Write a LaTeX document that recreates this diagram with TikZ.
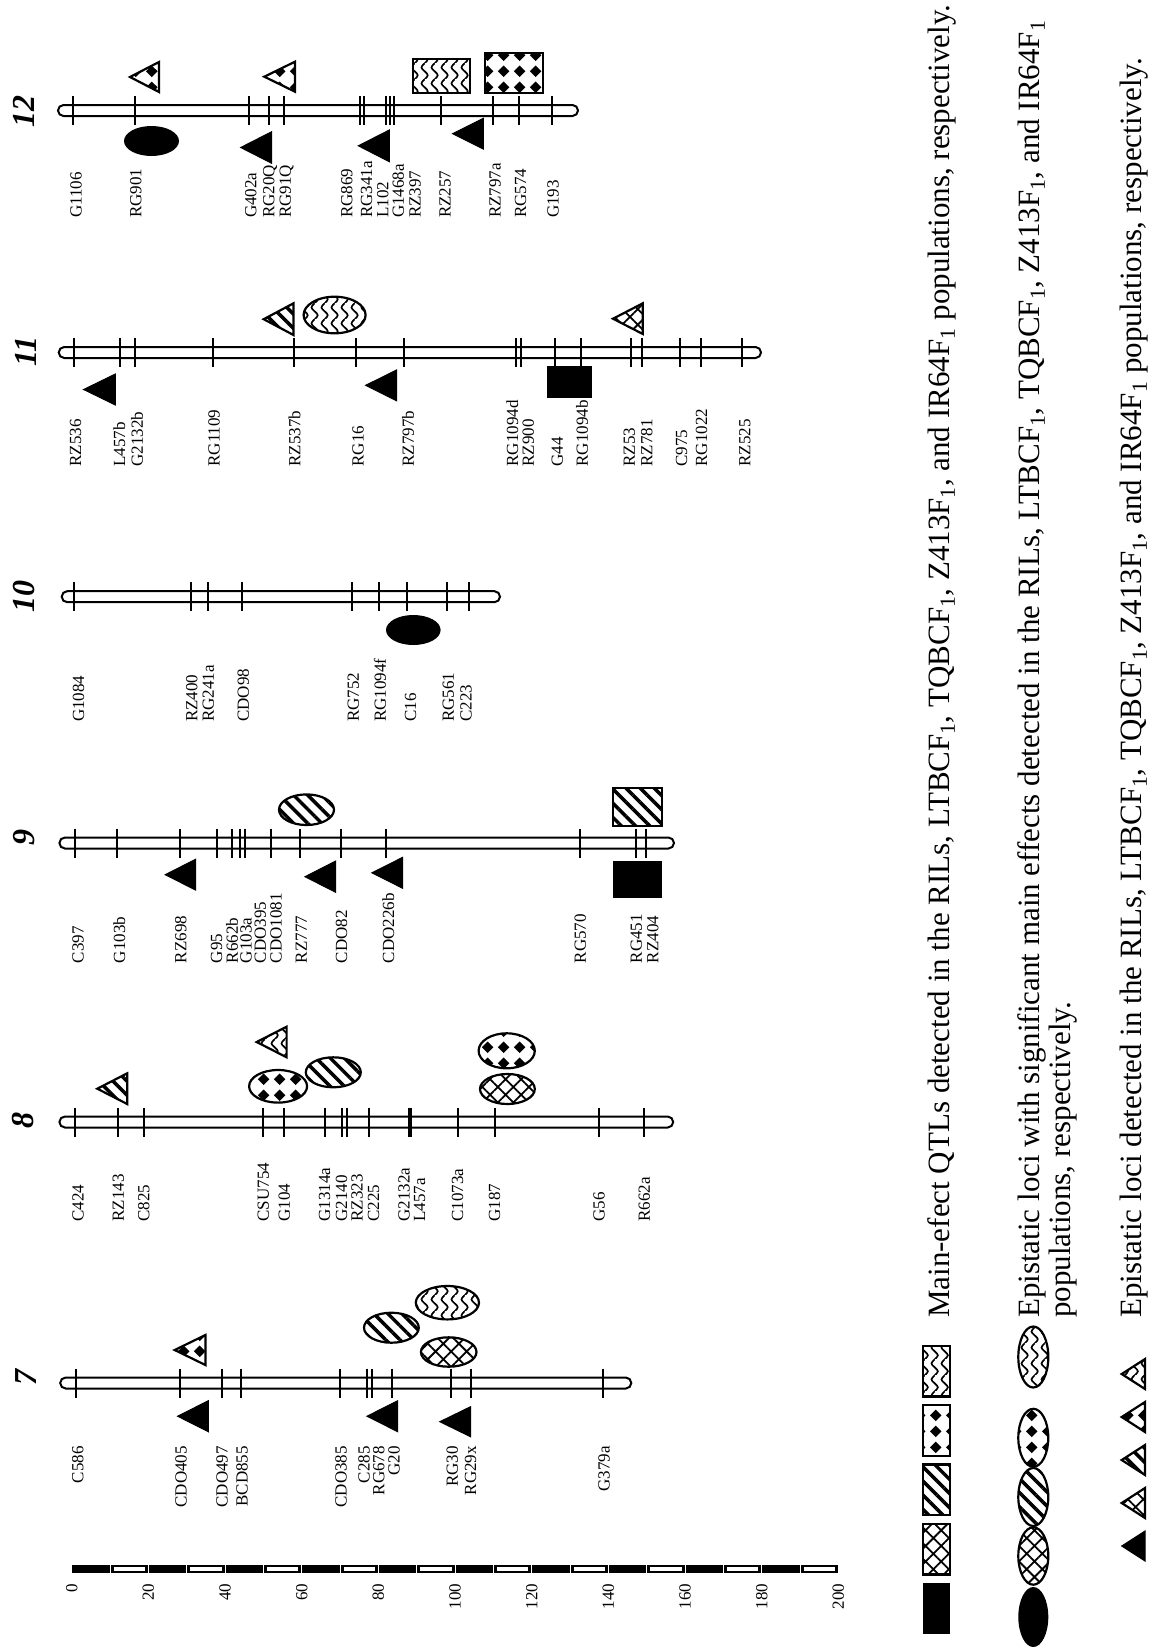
\documentclass[tikz,border=0pt]{standalone}
\usepackage{fontspec}
\setmainfont{Liberation Serif}
\usetikzlibrary{patterns,patterns.meta}

% diamond and wave fills (Z413F1, IR64F1)
\tikzdeclarepattern{
  name=diamonds,
  type=uncolored,
  bottom left={(0pt,0pt)},
  top right={(16pt,16pt)},
  tile size={(16pt,16pt)},
  code={\fill (8pt,2pt) -- (14pt,8pt) -- (8pt,14pt) -- (2pt,8pt) -- cycle;}
}
\tikzdeclarepattern{
  name=waves,
  type=uncolored,
  bottom left={(0pt,0pt)},
  top right={(10pt,16pt)},
  tile size={(10pt,16pt)},
  code={\draw[line width=1.8pt] (5pt,-0.5pt) .. controls (9.5pt,4pt) .. (5pt,8pt) .. controls (0.5pt,12pt) .. (5pt,16.5pt);}
}

\begin{document}
\begin{tikzpicture}[
    x=1pt,y=-1pt,
    chrom/.style={line width=2pt,rounded corners=5.5pt},
    tk/.style={line width=2pt},
    mk/.style={rotate=90,anchor=west,inner sep=0pt,font=\fontsize{17}{16.5}\selectfont},
    mkr/.style={mk,anchor=east},
    num/.style={rotate=90,inner sep=0pt,font=\fontsize{32}{32}\selectfont\bfseries\itshape},
    blk/.style={line width=1pt,fill=black},
    sym/.style={line width=2.2pt},
    pxhatch/.style={sym,pattern={Hatch[angle=45,distance=11pt,line width=1.8pt]}},
    pstripe/.style={sym,pattern={Lines[angle=-45,distance=10pt,line width=3.5pt]}},
    pdiam/.style={sym,pattern=diamonds},
    pwave/.style={sym,pattern=waves},
    legtxt/.style={rotate=90,anchor=base west,inner sep=0pt,font=\fontsize{31}{28}\selectfont},
]
\useasboundingbox (0,0) rectangle (1149,1647);

% ===== Chromosome 12 =====
\node[num] (n12) at (24,111) {12};
\draw[chrom] (58,105) rectangle (578,116);
\foreach \x in {73.3,135,249.3,269,284.3,360,364,385.7,390,394.3,440.7,493.3,518.5,552.2}
    \draw[tk] (\x,96) -- (\x,125);
\foreach \x/\t [count=\i] in {76/G1106,135.7/RG901,250.7/G402a,270/RG20Q,286.7/RG91Q,346.7/RG869,366.7/RG341a,382.7/L102,398.3/G1468a,415/RZ397,445/RZ257,495/RZ797a,520.5/RG574,553/G193}
    \node[mk] (c12m\i) at (\x,218) {\t};
\fill (151.5,141) ellipse [x radius=27.5,y radius=15];
\draw[pdiam] (130,77) -- (159,62) -- (159,92) -- cycle;
\draw[pdiam] (264.3,76.7) -- (295,61.7) -- (295,91.7) -- cycle;
\draw[blk] (240.7,147.5) -- (271.7,131.7) -- (271.7,163.3) -- cycle;
\draw[blk] (358.3,145.8) -- (389.3,130) -- (389.3,161.7) -- cycle;
\draw[blk] (452.7,133.7) -- (483.3,118.3) -- (483.3,149) -- cycle;
\draw[pwave] (413.3,59.3) rectangle (470,92.7);
\draw[pdiam] (485.3,52.7) rectangle (542.7,92.7);

% ===== Chromosome 11 =====
\node[num] (n11) at (26,351.7) {11};
\draw[chrom] (58.7,347) rectangle (761,358);
\foreach \x in {73.6,120.4,135.3,213,293.5,356.2,404,516,521,554.7,581,630.8,641.8,680,700.5,742.3}
    \draw[tk] (\x,338) -- (\x,367);
\foreach \x/\t [count=\i] in {75.6/RZ536,119.4/L457b,137/G2132b,214/RG1109,294.5/RZ537b,358.2/RG16,408/RZ797b,512.4/RG1094d,528.4/RZ900,557.2/G44,582/RG1094b,629.4/RZ53,646.8/RZ781,681.6/C975,701.5/RG1022,744.8/RZ525}
    \node[mk] (c11m\i) at (\x,466.7) {\t};
\draw[blk] (83.6,389.5) -- (115.4,374) -- (115.4,405) -- cycle;
\draw[blk] (365.7,385.3) -- (396.5,370) -- (396.5,400.7) -- cycle;
\fill (547.3,366) rectangle (592,398.3);
\draw[pstripe] (263.7,319.2) -- (293.5,303.3) -- (293.5,335) -- cycle;
\draw[pwave] (334.6,315) ellipse [x radius=31,y radius=18.3];
\draw[pxhatch] (613,318.7) -- (642.8,303.3) -- (642.8,334) -- cycle;

% ===== Chromosome 10 =====
\node[num] (n10) at (24,596.7) {10};
\draw[chrom] (61.7,591.2) rectangle (500,602.2);
\foreach \x in {74,190.7,207.7,242,351.7,379,407.3,446.7,469}
    \draw[tk] (\x,582.2) -- (\x,611.2);
\foreach \x/\t [count=\i] in {78.5/G1084,191.7/RZ400,208.3/RG241a,243.3/CDO98,353.3/RG752,380/RG1094f,410.7/C16,448.3/RG561,466/C223}
    \node[mk] (c10m\i) at (\x,722) {\t};
\fill (413.3,630) ellipse [x radius=27.3,y radius=15];

% ===== Chromosome 9 =====
\node[num] (n9) at (24.5,837) {9};
\draw[chrom] (59.4,837.5) rectangle (674,848.5);
\foreach \x in {74.6,117.4,180,217.4,232,240.2,244.6,271,300,340.6,386.2,579.5,636.2,646.4}
    \draw[tk] (\x,828.5) -- (\x,857.5);
\foreach \x/\t [count=\i] in {78.1/C397,119.2/G103b,180.8/RZ698,216.5/G95,232.1/R662b,246/G103a,260.3/CDO395,276/CDO1081,301.3/RZ777,341.5/CDO82,388.4/CDO226b,580.4/RG570,636.2/RG451,652.7/RZ404}
    \node[mk] (c9m\i) at (\x,963.3) {\t};
\draw[blk] (165.2,874.7) -- (195.5,859.3) -- (195.5,890) -- cycle;
\draw[blk] (305,876.7) -- (335.7,861) -- (335.7,892.3) -- cycle;
\draw[blk] (371.9,872.8) -- (402.7,857.3) -- (402.7,888.3) -- cycle;
\fill (612.5,860.7) rectangle (661.6,898.3);
\draw[pstripe] (613,788.3) rectangle (662,826);
\draw[pstripe] (306.5,809.7) ellipse [x radius=27.5,y radius=15.3];

% ===== Chromosome 8 =====
\node[num] (n8) at (23,1120) {8};
\draw[chrom] (59.4,1116.5) rectangle (673.2,1127.5);
\foreach \x in {75,118.3,143.8,263.4,284.4,324.6,341.5,347.3,368.8,408.5,410.7,457.6,494.6,599.1,644.2}
    \draw[tk] (\x,1107.5) -- (\x,1136.5);
\foreach \x/\t [count=\i] in {78.1/C424,118.3/RZ143,143.8/C825,263.4/CSU754,284.4/G104,324.6/G1314a,341.5/G2140,357.1/RZ323,373.7/C225,404/G2132a,419.6/L457a,457.6/C1073a,494.6/G187,599.1/G56,644.2/R662a}
    \node[mk] (c8m\i) at (\x,1221.7) {\t};
\draw[pstripe] (97.3,1088.7) -- (127.2,1073.3) -- (127.2,1104) -- cycle;
\draw[pdiam] (278.1,1086.3) ellipse [x radius=29,y radius=16.3];
\draw[pwave] (256.7,1042) -- (286.6,1026.7) -- (286.6,1057.3) -- cycle;
\draw[pstripe] (333.3,1072.3) ellipse [x radius=27.5,y radius=15];
\draw[pdiam] (506.7,1050.8) ellipse [x radius=28.1,y radius=17.5];
\draw[pxhatch] (507.4,1089) ellipse [x radius=27.4,y radius=15];

% ===== Chromosome 7 =====
\node[num] (n7) at (26,1377) {7};
\draw[chrom] (60.2,1377.5) rectangle (631.3,1388.5);
\foreach \x in {75.8,180.1,221.8,241.2,340.1,367,372.1,392.3,451.2,471.4,603.1}
    \draw[tk] (\x,1368.5) -- (\x,1397.5);
\foreach \x/\t [count=\i] in {77.9/C586,181/CDO405,222.2/CDO497,242/BCD855,341/CDO385,364/C285,378.8/RG678,394/G20,452.4/RG30,470.5/RG29x,604/G379a}
    \node[mkr] (c7m\i) at (\x,1446) {\t};
\draw[pdiam] (174.7,1350) -- (205.4,1335) -- (205.4,1365) -- cycle;
\draw[blk] (177.6,1416.2) -- (208.3,1400.7) -- (208.3,1431.7) -- cycle;
\draw[blk] (367,1416.2) -- (397.7,1400.7) -- (397.7,1431.7) -- cycle;
\draw[blk] (439.8,1421.7) -- (470.5,1406.7) -- (470.5,1436.7) -- cycle;
\draw[pstripe] (391.4,1327.7) ellipse [x radius=27.4,y radius=15];
\draw[pwave] (447.4,1302.7) ellipse [x radius=31.6,y radius=16.7];
\draw[pxhatch] (448.7,1352) ellipse [x radius=27.8,y radius=14.7];

% ===== Scale (cM) =====
\fill (71.7,1565) rectangle (838.3,1573.3);
\foreach \k in {1,...,19}
    \draw[white,line width=0.8pt] ({71.7+\k*38.333},1565) -- ++(0,8.3);
\foreach \k in {1,3,...,19}
    \fill[white] ({71.7+\k*38.333+3.5},1567.3) rectangle ({71.7+(\k+1)*38.333-3.5},1570.7);
\foreach \v [count=\i from 0] in {0,20,...,200}
    \node[mkr] (s\v) at ({71.7+\i*76.667},1583.3) {\v};

% ===== Legend =====
\fill (923.3,1583) rectangle (950,1633.7);
\draw[pxhatch] (923.3,1523.8) rectangle (950,1574.4);
\draw[pstripe] (923.3,1464.5) rectangle (950,1515);
\draw[pdiam] (923.3,1405.2) rectangle (950,1455.8);
\draw[pwave] (923.3,1345.9) rectangle (950,1396.5);
\node[legtxt] (leg1) at (949,1318) {Main-efect QTLs detected in the RILs, LTBCF\textsubscript{1}, TQBCF\textsubscript{1}, Z413F\textsubscript{1}, and IR64F\textsubscript{1} populations, respectively.};

\fill (1033.3,1617) ellipse [x radius=15,y radius=30];
\draw[pxhatch] (1033.3,1556) ellipse [x radius=15,y radius=28.7];
\draw[pstripe] (1033.3,1497) ellipse [x radius=15,y radius=29];
\draw[pdiam] (1033.3,1437.8) ellipse [x radius=15,y radius=29];
\draw[pwave] (1033.3,1357) ellipse [x radius=15,y radius=30.5];
\node[legtxt] (leg2a) at (1039,1318) {Epistatic loci with significant main effects detected in the RILs, LTBCF\textsubscript{1}, TQBCF\textsubscript{1}, Z413F\textsubscript{1}, and IR64F\textsubscript{1}};
\node[legtxt] (leg2b) at (1070,1318) {populations, respectively.};

\draw[blk] (1121.7,1546) -- (1145,1531) -- (1145,1561) -- cycle;
\draw[pxhatch] (1121.7,1503) -- (1145,1488) -- (1145,1518) -- cycle;
\draw[pstripe] (1121.7,1460) -- (1145,1445) -- (1145,1475) -- cycle;
\draw[pdiam] (1121.7,1417) -- (1145,1402) -- (1145,1432) -- cycle;
\draw[pwave] (1121.7,1374) -- (1145,1359) -- (1145,1389) -- cycle;
\node[legtxt] (leg3) at (1141,1318) {Epistatic loci detected in the RILs, LTBCF\textsubscript{1}, TQBCF\textsubscript{1}, Z413F\textsubscript{1}, and IR64F\textsubscript{1} populations, respectively.};

\end{tikzpicture}
\end{document}
